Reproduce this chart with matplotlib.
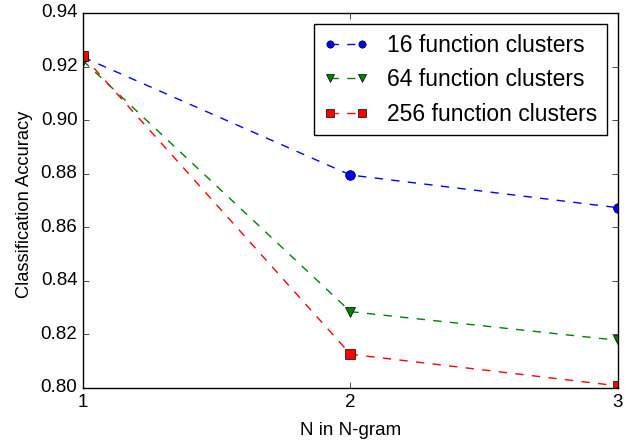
import matplotlib
matplotlib.use('Agg')
import matplotlib.pyplot as plt

plt.style.use('classic')
plt.rcParams['font.family'] = ['Liberation Sans', 'DejaVu Sans']

n_gram = [1, 2, 3]
acc_16 = [0.9235, 0.8795, 0.8673]
acc_64 = [0.9222, 0.8285, 0.8178]
acc_256 = [0.9240, 0.8126, 0.8008]
labels = ['16 function clusters', '64 function clusters', '256 function clusters']

fig = plt.figure(figsize=(6.36, 4.4), dpi=100, facecolor='white')
ax = fig.add_axes([0.1305, 0.1182, 0.8412, 0.8523])

ax.plot(n_gram, acc_16, 'bo--', markersize=7, label=labels[0])
ax.plot(n_gram, acc_64, 'gv--', markersize=7, label=labels[1])
ax.plot(n_gram, acc_256, 'rs--', markersize=7, label=labels[2])

ax.set_xlim(1, 3)
ax.set_ylim(0.80, 0.94)
ax.set_xticks([1, 2, 3])
ax.set_yticks([0.80, 0.82, 0.84, 0.86, 0.88, 0.90, 0.92, 0.94])
ax.tick_params(labelsize=13.5)
ax.set_xlabel('N in N-gram', fontsize=13.5)
ax.set_ylabel('Classification Accuracy', fontsize=13.2)
ax.xaxis.set_label_coords(0.5, -0.091)
ax.yaxis.set_label_coords(-0.094, 0.49)
ax.legend(loc='upper right', fontsize=16.5, numpoints=2, markerscale=0.75)

fig.savefig('out.png', dpi=100, facecolor='white')
